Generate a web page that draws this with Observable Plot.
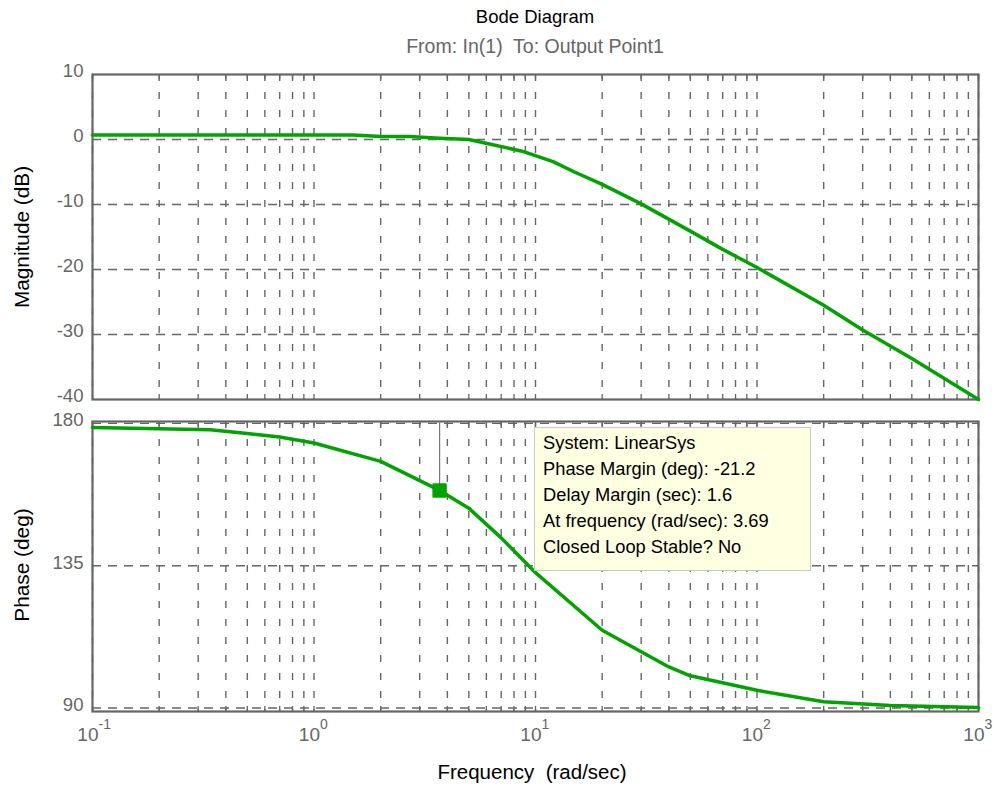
<!DOCTYPE html>
<html><head><meta charset="utf-8">
<script src="https://cdn.jsdelivr.net/npm/d3@7"></script>
<script src="https://cdn.jsdelivr.net/npm/@observablehq/plot@0.6"></script>
<style>
body{margin:0;background:#fff;font-family:Arial,"Liberation Sans",sans-serif;}
#wrap{position:relative;width:1005px;height:787px;overflow:hidden;background:#fff}
.t{position:absolute;white-space:pre;transform:translate(-50%,-50%);line-height:1}
.r{transform:translate(-50%,-50%) rotate(-90deg)}
.plot{position:absolute;left:0}
#tip{position:absolute;background:#ffffe1;border:1px solid #c9c9c0;font-size:18.3px;line-height:26px;padding:2px 0 2px 8px;color:#000;white-space:pre;box-sizing:border-box}
</style></head><body><div id="wrap"></div>
<script>
// ---- data ----
const magFreq  = [0.1, 0.5, 1, 1.5, 2, 2.7, 3.69, 5, 8.7, 12, 15, 20, 30, 50, 70, 100, 200, 300, 500, 1000];
const magDb    = [0.7, 0.7, 0.7, 0.7, 0.45, 0.45, 0.2, 0.0, -1.8, -3.4, -5.0, -6.9, -9.9, -14.1, -16.9, -19.7, -25.5, -29.3, -33.7, -40.0];
const phaseFreq = [0.1, 0.34, 0.5, 0.7, 1, 2, 3.69, 5, 7, 10, 20, 40, 50, 100, 200, 400, 1000];
const phaseDeg  = [178.7, 178.0, 176.8, 175.7, 173.8, 168, 158.8, 153.2, 143.8, 132.8, 114.6, 103, 100.2, 95.6, 92, 90.8, 90.2];
const decadeTicks = [0.1, 1, 10, 100, 1000];
const decadeExps  = ["-1", "0", "1", "2", "3"];
const magTicks   = [10, 0, -10, -20, -30, -40];
const magGrid    = [0, -10, -20, -30];
const phaseTicks = [180, 135, 90];
const marginFreq  = [3.69];
const marginPhase = [158.8];
const tipLines = ["System: LinearSys", "Phase Margin (deg): -21.2", "Delay Margin (sec): 1.6", "At frequency (rad/sec): 3.69", "Closed Loop Stable? No"];
const titleText = "Bode Diagram";
const subtitleText = "From: In(1)  To: Output Point1";
const xLabel = "Frequency  (rad/sec)";
const magLabel = "Magnitude (dB)";
const phaseLabel = "Phase (deg)";

const green = "#00a300";
const gridColor = "#666";
const xDomain = [0.1, 1000];
const magDomain = [-40, 10];
const phaseDomain = [88.9, 180.6];
const gridFreqs = d3.scaleLog().domain(xDomain).ticks();

const magData = magFreq.map((f, i) => ({f, v: magDb[i]}));
const phaseData = phaseFreq.map((f, i) => ({f, v: phaseDeg[i]}));
const pmData = marginFreq.map((f, i) => ({f, v: marginPhase[i]}));

const wrap = document.getElementById("wrap");
function addText(txt, x, y, size, color, cls) {
  const d = document.createElement("div");
  d.className = "t" + (cls ? " " + cls : "");
  d.textContent = txt;
  d.style.left = x + "px"; d.style.top = y + "px";
  d.style.fontSize = size + "px"; d.style.color = color;
  wrap.appendChild(d);
}

const common = {
  width: 1005, marginLeft: 92, marginRight: 27,
  style: {background: "transparent", overflow: "visible", fontFamily: "Arial, 'Liberation Sans', sans-serif", fontSize: "18.6px", color: "#666"}
};
const fmt = d => String(d);
// short inward ticks along the top and bottom edges (length in data units of each panel)
function edgeTicks(domain, px, h) {
  const u = (domain[1] - domain[0]) * px / h;
  return [
    Plot.ruleX(gridFreqs, {y1: domain[1], y2: domain[1] - u, stroke: gridColor, strokeWidth: 1.3}),
    Plot.ruleX(gridFreqs, {y1: domain[0], y2: domain[0] + u, stroke: gridColor, strokeWidth: 1.3})
  ];
}

const topPlot = Plot.plot({
  ...common,
  height: 360, marginTop: 14, marginBottom: 21,
  x: {type: "log", domain: xDomain, axis: null},
  y: {domain: magDomain, axis: null},
  marks: [
    Plot.ruleX(gridFreqs, {stroke: gridColor, strokeWidth: 1.4, strokeDasharray: "7,11"}),
    Plot.ruleY(magGrid, {stroke: gridColor, strokeWidth: 1.4, strokeDasharray: "9,7"}),
    ...edgeTicks(magDomain, 5, 325),
    Plot.frame({stroke: gridColor, strokeWidth: 2.2}),
    Plot.axisY(magTicks, {tickSize: 0, tickPadding: 9, dy: -3, fontSize: 18.6, fill: "#666", tickFormat: fmt, label: null}),
    Plot.line(magData, {x: "f", y: "v", stroke: green, strokeWidth: 3.5})
  ]
});
topPlot.classList.add("plot");
topPlot.style.top = "60px";
wrap.appendChild(topPlot);

const botPlot = Plot.plot({
  ...common,
  height: 360, marginTop: 11, marginBottom: 59,
  x: {type: "log", domain: xDomain, axis: null},
  y: {domain: phaseDomain, axis: null},
  marks: [
    Plot.ruleX(gridFreqs, {stroke: gridColor, strokeWidth: 1.4, strokeDasharray: "7,11"}),
    Plot.ruleY(phaseTicks, {stroke: gridColor, strokeWidth: 1.4, strokeDasharray: "9,7"}),
    ...edgeTicks(phaseDomain, 5, 290),
    Plot.frame({stroke: gridColor, strokeWidth: 2.2}),
    Plot.axisY(phaseTicks, {tickSize: 0, tickPadding: 9, dy: -3, fontSize: 18.6, fill: "#666", tickFormat: fmt, label: null}),
    Plot.text(decadeTicks, {x: d => d, frameAnchor: "bottom", text: () => "10", textAnchor: "end", dx: 6, dy: 29, fontSize: 19, fill: "#666"}),
    Plot.text(decadeTicks, {x: d => d, frameAnchor: "bottom", text: (d, i) => decadeExps[i], textAnchor: "start", dx: 6, dy: 17, fontSize: 14, fill: "#666"}),
    Plot.ruleX(pmData, {x: "f", y1: "v", y2: phaseDomain[1], stroke: "#777", strokeWidth: 1.2}),
    Plot.line(phaseData, {x: "f", y: "v", stroke: green, strokeWidth: 3.5}),
    Plot.dot(pmData, {x: "f", y: "v", symbol: "square", r: 7, fill: green, stroke: green, strokeWidth: 2, strokeLinejoin: "round"})
  ]
});
botPlot.classList.add("plot");
botPlot.style.top = "410px";
wrap.appendChild(botPlot);

// texts
addText(titleText, 535, 17, 18.5, "#000");
addText(subtitleText, 535, 47, 19.5, "#666");
addText(xLabel, 532, 772, 20.5, "#000");
addText(magLabel, 22, 237, 20.8, "#000", "r");
addText(phaseLabel, 22, 565, 20.8, "#000", "r");

// data tip anchored to the margin point via the plot scales
const xs = botPlot.scale("x"), ys = botPlot.scale("y");
const tip = document.createElement("div");
tip.id = "tip";
tip.textContent = tipLines.join("\n");
tip.style.left = (xs.apply(marginFreq[0]) + 95) + "px";
tip.style.top = (410 + ys.apply(phaseDomain[1]) + 6) + "px";
tip.style.width = "277px";
tip.style.height = "144px";
wrap.appendChild(tip);
</script></body></html>
